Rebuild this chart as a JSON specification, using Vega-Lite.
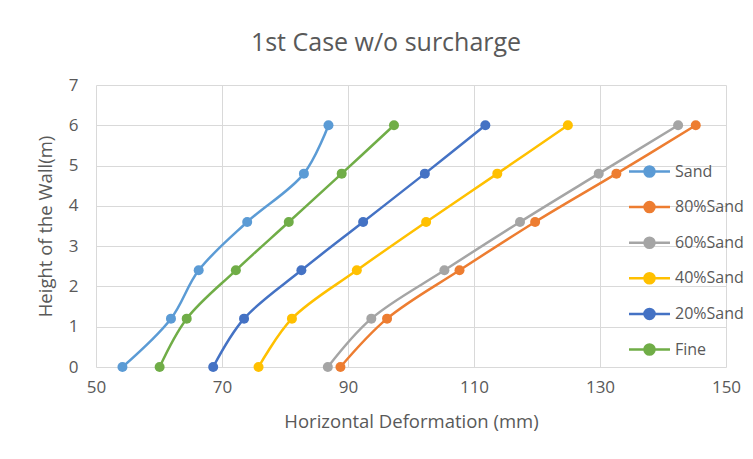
{
  "$schema": "https://vega.github.io/schema/vega-lite/v6.json",
  "autosize": {"type": "none"},
  "width": 630,
  "height": 282,
  "padding": {"left": 96, "top": 85, "right": 27, "bottom": 92},
  "background": "white",
  "title": {"text": "1st Case w/o surcharge", "font": "Open Sans", "fontSize": 25, "fontWeight": "normal", "color": "#595959", "offset": 20, "dx": -25},
  "config": {
    "view": {"stroke": null},
    "axis": {"labelFont": "Open Sans", "labelFontSize": 17, "labelColor": "#595959", "titleFont": "Open Sans", "titleFontSize": 18.5, "titleFontWeight": "normal", "titleColor": "#595959", "gridColor": "#D9D9D9", "gridWidth": 1, "ticks": false, "domain": false, "labelFlush": false},
    "legend": {"labelFont": "Open Sans", "labelFontSize": 16, "labelColor": "#595959"}
  },
  "data": {"values": [
    {"s": "Sand", "x": 54.2, "y": 0}, {"s": "Sand", "x": 61.9, "y": 1.2}, {"s": "Sand", "x": 66.3, "y": 2.4}, {"s": "Sand", "x": 74.0, "y": 3.6}, {"s": "Sand", "x": 83.0, "y": 4.8}, {"s": "Sand", "x": 86.9, "y": 6},
    {"s": "80%Sand", "x": 88.8, "y": 0}, {"s": "80%Sand", "x": 96.2, "y": 1.2}, {"s": "80%Sand", "x": 107.7, "y": 2.4}, {"s": "80%Sand", "x": 119.7, "y": 3.6}, {"s": "80%Sand", "x": 132.6, "y": 4.8}, {"s": "80%Sand", "x": 145.2, "y": 6},
    {"s": "60%Sand", "x": 86.8, "y": 0}, {"s": "60%Sand", "x": 93.7, "y": 1.2}, {"s": "60%Sand", "x": 105.3, "y": 2.4}, {"s": "60%Sand", "x": 117.3, "y": 3.6}, {"s": "60%Sand", "x": 129.8, "y": 4.8}, {"s": "60%Sand", "x": 142.4, "y": 6},
    {"s": "40%Sand", "x": 75.8, "y": 0}, {"s": "40%Sand", "x": 81.1, "y": 1.2}, {"s": "40%Sand", "x": 91.4, "y": 2.4}, {"s": "40%Sand", "x": 102.4, "y": 3.6}, {"s": "40%Sand", "x": 113.7, "y": 4.8}, {"s": "40%Sand", "x": 124.9, "y": 6},
    {"s": "20%Sand", "x": 68.6, "y": 0}, {"s": "20%Sand", "x": 73.5, "y": 1.2}, {"s": "20%Sand", "x": 82.6, "y": 2.4}, {"s": "20%Sand", "x": 92.4, "y": 3.6}, {"s": "20%Sand", "x": 102.2, "y": 4.8}, {"s": "20%Sand", "x": 111.8, "y": 6},
    {"s": "Fine", "x": 60.1, "y": 0}, {"s": "Fine", "x": 64.4, "y": 1.2}, {"s": "Fine", "x": 72.2, "y": 2.4}, {"s": "Fine", "x": 80.6, "y": 3.6}, {"s": "Fine", "x": 89.0, "y": 4.8}, {"s": "Fine", "x": 97.3, "y": 6}
  ]},
  "encoding": {
    "x": {"field": "x", "type": "quantitative", "scale": {"domain": [50, 150], "nice": false, "zero": false}, "axis": {"values": [50, 70, 90, 110, 130, 150], "title": "Horizontal Deformation (mm)", "labelPadding": 12, "titlePadding": 17}},
    "y": {"field": "y", "type": "quantitative", "scale": {"domain": [0, 7], "nice": false}, "axis": {"values": [0, 1, 2, 3, 4, 5, 6, 7], "title": "Height of the Wall(m)", "labelPadding": 18, "titlePadding": 13}},
    "color": {"field": "s", "type": "nominal", "sort": null,
      "scale": {"domain": ["Sand", "80%Sand", "60%Sand", "40%Sand", "20%Sand", "Fine"], "range": ["#5B9BD5", "#ED7D31", "#A5A5A5", "#FFC000", "#4472C4", "#70AD47"]},
      "legend": {"title": null, "orient": "none", "legendX": 542, "legendY": 75, "padding": 0, "rowPadding": 13.6,
         "symbolType": "M-2,0L2,0M0.49,0A0.49,0.49 0 1,1 -0.49,0A0.49,0.49 0 1,1 0.49,0Z", "symbolSize": 420, "symbolStrokeWidth": 2.5, "labelOffset": 14,
         "encode": {"symbols": {"update": {"stroke": {"scale": "color", "field": "value"}, "fill": {"scale": "color", "field": "value"}, "opacity": {"value": 1}}}}}},
    "order": {"field": "y", "type": "quantitative"}
  },
  "layer": [
    {"mark": {"type": "line", "strokeWidth": 2.5, "interpolate": "catmull-rom"}},
    {"mark": {"type": "point", "filled": true, "size": 100, "opacity": 1}}
  ]
}
